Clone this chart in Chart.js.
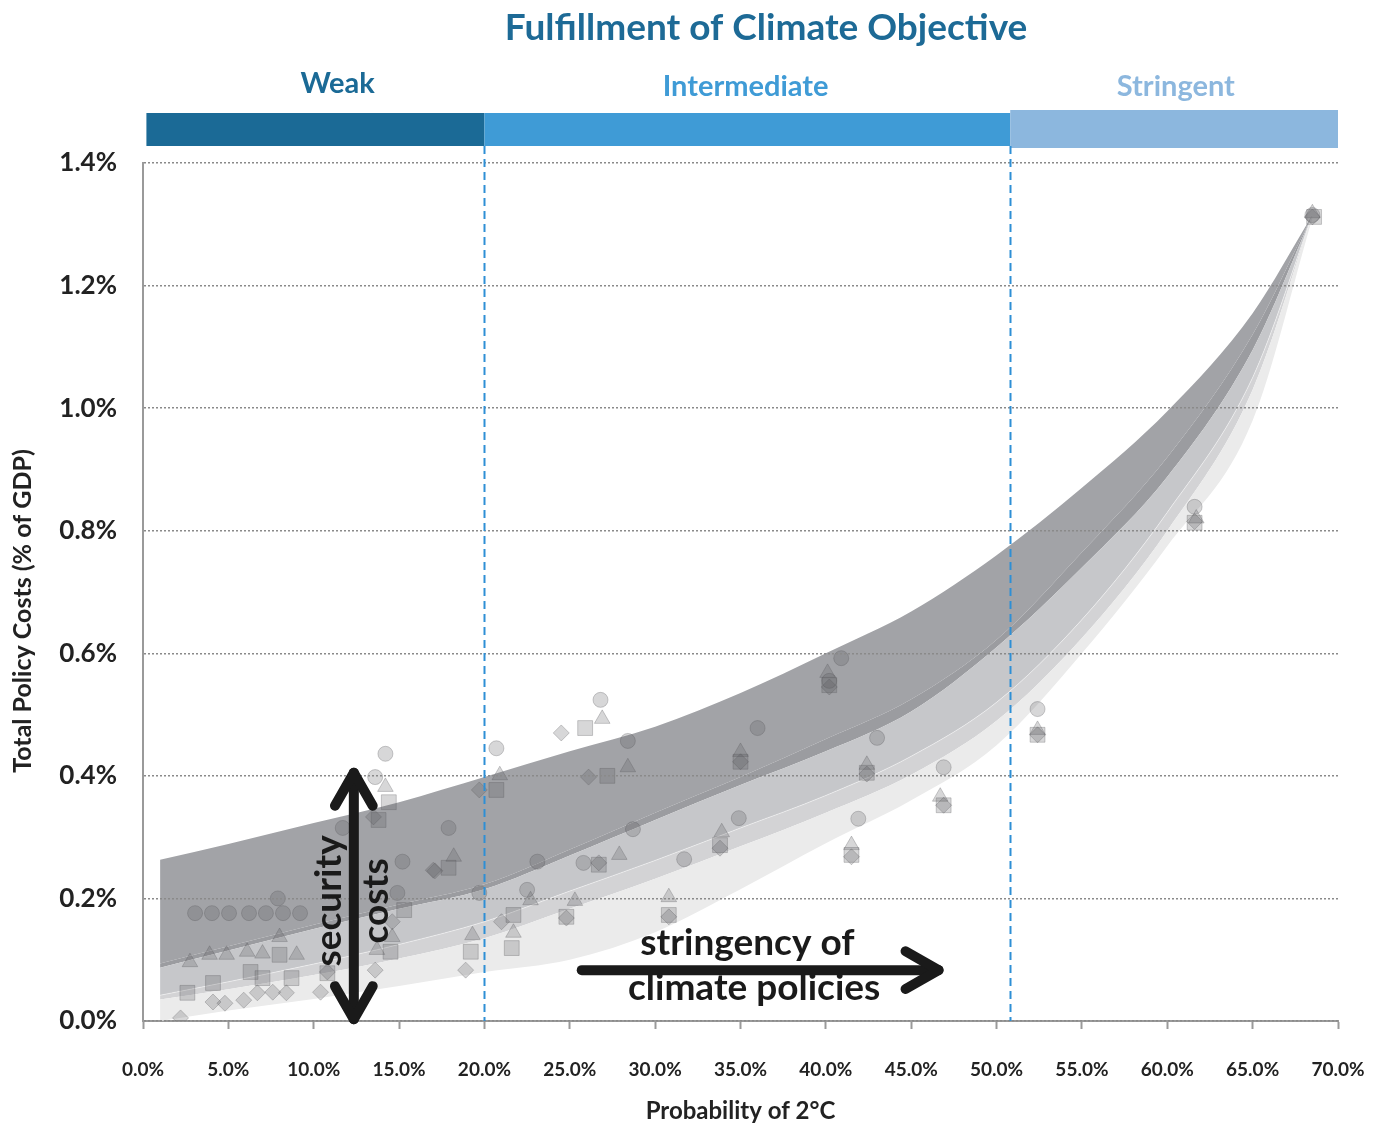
<!DOCTYPE html>
<html>
<head>
<meta charset="utf-8">
<title>Total Policy Costs</title>
<script src="https://cdn.jsdelivr.net/npm/chart.js@4.4.0/dist/chart.umd.min.js"></script>
<style>
  body { margin: 0; background: #fff; }
  #wrap { width: 1389px; height: 1126px; }
</style>
</head>
<body>
<div id="wrap"><canvas id="costChart" width="1389" height="1126"></canvas></div>
<script>
// Probability of 2°C (%) where the cost bands are sampled
const probX = [1, 5, 10, 15, 20, 25, 30, 35, 40, 45, 50, 55, 60, 65, 68.5];

// Band edges, total policy costs (% of GDP), top to bottom
const bandTop      = [0.263, 0.289, 0.323, 0.357, 0.398, 0.44, 0.48, 0.535, 0.6, 0.668, 0.76, 0.87, 0.995, 1.155, 1.315];
const stripTop     = [0.094, 0.122, 0.157, 0.19, 0.223, 0.28, 0.34, 0.398, 0.46, 0.525, 0.622, 0.765, 0.92, 1.12, 1.315];
const darkBottom   = [0.087, 0.115, 0.15, 0.183, 0.215, 0.27, 0.328, 0.385, 0.44, 0.505, 0.61, 0.74, 0.888, 1.095, 1.315];
const mediumBottom = [0.042, 0.064, 0.093, 0.125, 0.162, 0.212, 0.262, 0.315, 0.368, 0.432, 0.52, 0.655, 0.83, 1.05, 1.315];
const mixBottom    = [0.035, 0.052, 0.075, 0.102, 0.135, 0.183, 0.232, 0.285, 0.34, 0.402, 0.49, 0.625, 0.8, 1.03, 1.315];
const lightBottom  = [0.0, 0.017, 0.036, 0.057, 0.08, 0.1, 0.145, 0.215, 0.29, 0.36, 0.45, 0.6, 0.775, 0.98, 1.31];

// Individual scenario results
const circleX = [3.05, 4.04, 5.04, 6.21, 7.2, 8.2, 9.2, 7.9, 13.6, 14.2, 11.7, 15.2, 14.9, 17.9, 20.7, 26.8, 28.4, 36.0, 28.7, 23.1, 25.8, 22.5, 19.7, 31.7, 34.9, 40.9, 43.0, 46.9, 41.9, 52.4, 61.6, 68.5, 40.2];
const circleY = [0.176, 0.176, 0.176, 0.176, 0.176, 0.176, 0.176, 0.2, 0.398, 0.436, 0.315, 0.26, 0.209, 0.315, 0.445, 0.524, 0.457, 0.478, 0.313, 0.26, 0.258, 0.214, 0.209, 0.264, 0.331, 0.592, 0.462, 0.414, 0.33, 0.509, 0.839, 1.315, 0.555];

const squareX = [2.6, 4.1, 6.3, 7.0, 8.7, 8.0, 14.4, 13.8, 15.3, 14.5, 10.8, 25.9, 20.7, 27.2, 17.9, 26.7, 21.7, 24.8, 30.8, 33.8, 35.0, 19.2, 21.6, 40.2, 42.4, 46.9, 41.5, 52.4, 61.6, 68.6];
const squareY = [0.046, 0.062, 0.08, 0.07, 0.07, 0.108, 0.357, 0.328, 0.181, 0.113, 0.078, 0.478, 0.377, 0.4, 0.25, 0.255, 0.173, 0.17, 0.173, 0.287, 0.423, 0.113, 0.119, 0.548, 0.405, 0.352, 0.271, 0.467, 0.813, 1.312];

const triangleX = [2.75, 3.9, 4.9, 6.1, 7.0, 8.0, 9.0, 14.2, 14.6, 13.7, 20.9, 26.9, 28.4, 35.0, 18.2, 27.9, 33.9, 25.3, 30.8, 22.7, 19.3, 21.7, 40.1, 42.4, 46.7, 41.5, 52.4, 61.7, 68.5];
const triangleY = [0.096, 0.108, 0.108, 0.113, 0.11, 0.137, 0.108, 0.382, 0.137, 0.116, 0.401, 0.493, 0.414, 0.439, 0.268, 0.271, 0.308, 0.196, 0.202, 0.197, 0.14, 0.144, 0.568, 0.418, 0.366, 0.287, 0.475, 0.82, 1.318];

const diamondX = [2.2, 4.1, 4.8, 5.9, 6.7, 7.6, 8.4, 10.4, 10.8, 13.6, 13.5, 14.6, 17.0, 24.5, 19.7, 26.1, 35.0, 17.1, 26.7, 33.8, 24.8, 21.0, 30.8, 18.9, 40.2, 42.4, 46.9, 41.5, 52.4, 61.6, 68.5];
const diamondY = [0.005, 0.031, 0.029, 0.034, 0.046, 0.047, 0.046, 0.047, 0.08, 0.083, 0.333, 0.162, 0.246, 0.47, 0.377, 0.398, 0.423, 0.245, 0.258, 0.282, 0.168, 0.162, 0.17, 0.083, 0.545, 0.403, 0.352, 0.268, 0.467, 0.815, 1.312];

// Objective categories along the probability axis
const objectiveLabels = ["Weak", "Intermediate", "Stringent"];
const objectiveBounds = [0.2, 20, 50.8, 70];
const objectiveLabelX = [11.4, 35.3, 60.5];
const objectiveColors = ["#1b6a96", "#3f9bd6", "#8cb7de"];

// Axis ranges and tick steps
const xMin = 0, xMax = 70, xStep = 5;
const yMin = 0, yMax = 1.4, yStep = 0.2;

const fontFamily = "Lato, 'Open Sans', sans-serif";
const markerFill = "rgba(88, 88, 94, 0.24)";
const markerEdge = "rgba(88, 88, 94, 0.3)";

function toPoints(xs, ys) {
  return xs.map((x, i) => ({ x: x, y: ys[i] }));
}

function bandSet(ys, color, fill, edge) {
  return {
    data: toPoints(probX, ys),
    backgroundColor: color,
    fill: fill,
    borderColor: edge || "transparent",
    borderWidth: edge ? 1 : 0,
    pointRadius: 0,
    cubicInterpolationMode: "monotone",
    order: 1,
  };
}

function markerSet(xs, ys, style, radius) {
  return {
    data: toPoints(xs, ys),
    showLine: false,
    pointStyle: style,
    pointRadius: radius,
    pointBackgroundColor: markerFill,
    pointBorderColor: markerEdge,
    pointBorderWidth: 1,
    order: 0,
  };
}

// Draws the arrow shaft and chevron heads
function drawArrow(ctx, x1, y1, x2, y2, both) {
  const ang = Math.atan2(y2 - y1, x2 - x1);
  const head = (tx, ty, a) => {
    ctx.beginPath();
    ctx.moveTo(tx - 38 * Math.cos(a - 0.52), ty - 38 * Math.sin(a - 0.52));
    ctx.lineTo(tx, ty);
    ctx.lineTo(tx - 38 * Math.cos(a + 0.52), ty - 38 * Math.sin(a + 0.52));
    ctx.stroke();
  };
  ctx.beginPath();
  ctx.moveTo(x1, y1);
  ctx.lineTo(x2, y2);
  ctx.stroke();
  head(x2, y2, ang);
  if (both) head(x1, y1, ang + Math.PI);
}

// Header bars, objective boundaries and annotations
const overlayPlugin = {
  id: "overlay",
  afterDraw(chart) {
    const { ctx, chartArea } = chart;
    const xs = chart.scales.x;
    const ys = chart.scales.y;
    ctx.save();

    ctx.textAlign = "center";
    ctx.textBaseline = "alphabetic";
    ctx.fillStyle = "#1d6a96";
    ctx.font = "bold 37px " + fontFamily;
    ctx.fillText("Fulfillment of Climate Objective", xs.getPixelForValue(36.5), 40);

    objectiveLabels.forEach((label, i) => {
      const left = xs.getPixelForValue(objectiveBounds[i]);
      const right = xs.getPixelForValue(objectiveBounds[i + 1]);
      ctx.fillStyle = objectiveColors[i];
      if (i === 2) {
        ctx.fillRect(left, chartArea.top - 53, right - left, 38);
      } else {
        ctx.fillRect(left, chartArea.top - 50, right - left, 33);
      }
      ctx.font = "bold 29px " + fontFamily;
      ctx.fillText(label, xs.getPixelForValue(objectiveLabelX[i]), i === 0 ? 93 : 96);
    });

    // boundaries between objective categories
    ctx.strokeStyle = "#2e8fd5";
    ctx.lineWidth = 2;
    ctx.setLineDash([8, 5]);
    [objectiveBounds[1], objectiveBounds[2]].forEach((v) => {
      const px = Math.round(xs.getPixelForValue(v)) + 0.5;
      ctx.beginPath();
      ctx.moveTo(px, chartArea.top - 17);
      ctx.lineTo(px, chartArea.bottom);
      ctx.stroke();
    });
    ctx.setLineDash([]);

    // y axis title
    ctx.save();
    ctx.translate(31, 611);
    ctx.rotate(-Math.PI / 2);
    ctx.fillStyle = "#222";
    ctx.font = "bold 25px " + fontFamily;
    ctx.fillText("Total Policy Costs (% of GDP)", 0, 0);
    ctx.restore();

    // arrows
    ctx.strokeStyle = "#1a1a1a";
    ctx.lineWidth = 10;
    ctx.lineCap = "round";
    ctx.lineJoin = "round";
    drawArrow(ctx, xs.getPixelForValue(12.35), ys.getPixelForValue(0.003), xs.getPixelForValue(12.35), ys.getPixelForValue(0.405), true);
    drawArrow(ctx, xs.getPixelForValue(25.7), ys.getPixelForValue(0.083), xs.getPixelForValue(46.6), ys.getPixelForValue(0.083), false);

    ctx.fillStyle = "#1a1a1a";
    ctx.font = "bold 37px " + fontFamily;
    ctx.fillText("stringency of", xs.getPixelForValue(35.4), ys.getPixelForValue(0.108));
    ctx.fillText("climate policies", xs.getPixelForValue(35.8), ys.getPixelForValue(0.034));

    [["security", 11.6], ["costs", 14.35]].forEach(([word, xv]) => {
      ctx.save();
      ctx.translate(xs.getPixelForValue(xv), ys.getPixelForValue(0.196));
      ctx.rotate(-Math.PI / 2);
      ctx.fillText(word, 0, 0);
      ctx.restore();
    });

    ctx.restore();
  },
};

const ctx = document.getElementById("costChart").getContext("2d");
new Chart(ctx, {
  type: "line",
  data: {
    datasets: [
      bandSet(lightBottom, "transparent", false),
      bandSet(mixBottom, "#ebebeb", "-1"),
      bandSet(mediumBottom, "#d3d3d5", "-1", "rgba(255,255,255,0.45)"),
      bandSet(darkBottom, "#c6c7ca", "-1"),
      bandSet(stripTop, "#9b9ca0", "-1"),
      bandSet(bandTop, "#a2a3a7", "-1"),
      markerSet(circleX, circleY, "circle", 7.5),
      markerSet(squareX, squareY, "rect", 10.5),
      markerSet(triangleX, triangleY, "triangle", 9),
      markerSet(diamondX, diamondY, "rectRot", 8),
    ],
  },
  options: {
    responsive: false,
    animation: false,
    layout: { padding: { top: 163, right: 51, left: 0, bottom: 0 } },
    plugins: {
      legend: { display: false },
      tooltip: { enabled: false },
    },
    scales: {
      x: {
        type: "linear",
        min: xMin,
        max: xMax,
        afterFit: (s) => {
          s.height = 105;
          s.paddingLeft = 0;
          s.paddingRight = 0;
        },
        ticks: {
          stepSize: xStep,
          autoSkip: false,
          maxRotation: 0,
          padding: 29,
          color: "#222",
          font: { family: fontFamily, size: 19, weight: "bold" },
          callback: (v) => v.toFixed(1) + "%",
        },
        grid: {
          drawOnChartArea: false,
          drawTicks: true,
          tickLength: 8,
          tickColor: "#9a9a9a",
          tickWidth: 2,
        },
        border: { color: "#9a9a9a", width: 2 },
        title: {
          display: true,
          text: "Probability of 2°C",
          color: "#222",
          font: { family: fontFamily, size: 24, weight: "bold" },
          padding: { top: 0, bottom: 0 },
        },
      },
      y: {
        min: yMin,
        max: yMax,
        afterFit: (s) => { s.width = 143; },
        ticks: {
          stepSize: yStep,
          padding: 26,
          color: "#222",
          font: { family: fontFamily, size: 26, weight: "bold" },
          callback: (v) => v.toFixed(1) + "%",
        },
        grid: { color: "#8a8a8a", lineWidth: 1.5, drawTicks: false, z: 1 },
        border: { color: "#9a9a9a", width: 2, dash: [2, 2], z: 2 },
      },
    },
  },
  plugins: [overlayPlugin],
});
</script>
</body>
</html>
